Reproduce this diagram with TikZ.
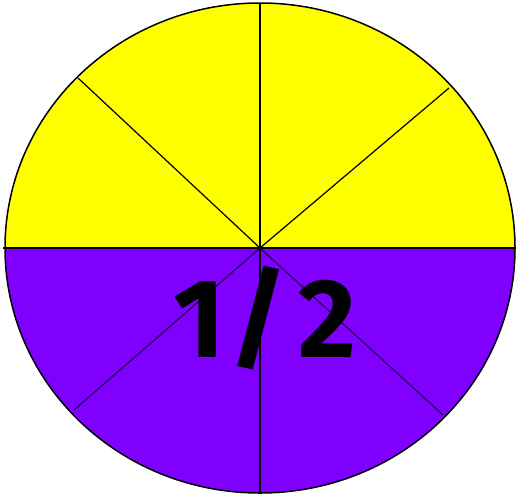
\documentclass[tikz,border=0pt]{standalone}
\usepackage{fontspec}
\setmainfont{Fira Sans}
\definecolor{pieyellow}{HTML}{FFFF00}
\definecolor{piepurple}{HTML}{7F00FF}
\tikzset{
  divider/.style={draw=black, line width=1.2pt},
  rim/.style={draw=black, line width=1.5pt},
  fraclabel/.style={font=\fontsize{112}{112}\selectfont\bfseries, text=black, inner sep=0pt}
}
\begin{document}
\begin{tikzpicture}[x=1pt,y=-1pt]
\useasboundingbox (0,0) rectangle (516,496);
\coordinate (c) at (260,248);
% halves
\fill[pieyellow] (5,248) arc[start angle=180, end angle=0, x radius=255, y radius=-245] -- cycle;
\fill[piepurple] (5,248) arc[start angle=180, end angle=360, x radius=255, y radius=-245] -- cycle;
% spokes
\coordinate (top) at (260,3);
\coordinate (bot) at (260,493);
\coordinate (lft) at (3,248);
\coordinate (rgt) at (516,248);
\coordinate (ul) at (78,78);
\coordinate (ur) at (449,88);
\coordinate (ll) at (74,410);
\coordinate (lr) at (443,415);
\draw[divider] (top) -- (bot);
\draw[divider] (lft) -- (rgt);
\draw[divider] (ul) -- (c) -- (ur);
\draw[divider, draw=black!70!piepurple] (ll) -- (c) -- (lr);
% rim
\draw[rim] (260,248) ellipse[x radius=255, y radius=245];
\node[fraclabel, anchor=base] (frac) at (265,357) {1\kern4pt/\kern10pt2};
\end{tikzpicture}
\end{document}
